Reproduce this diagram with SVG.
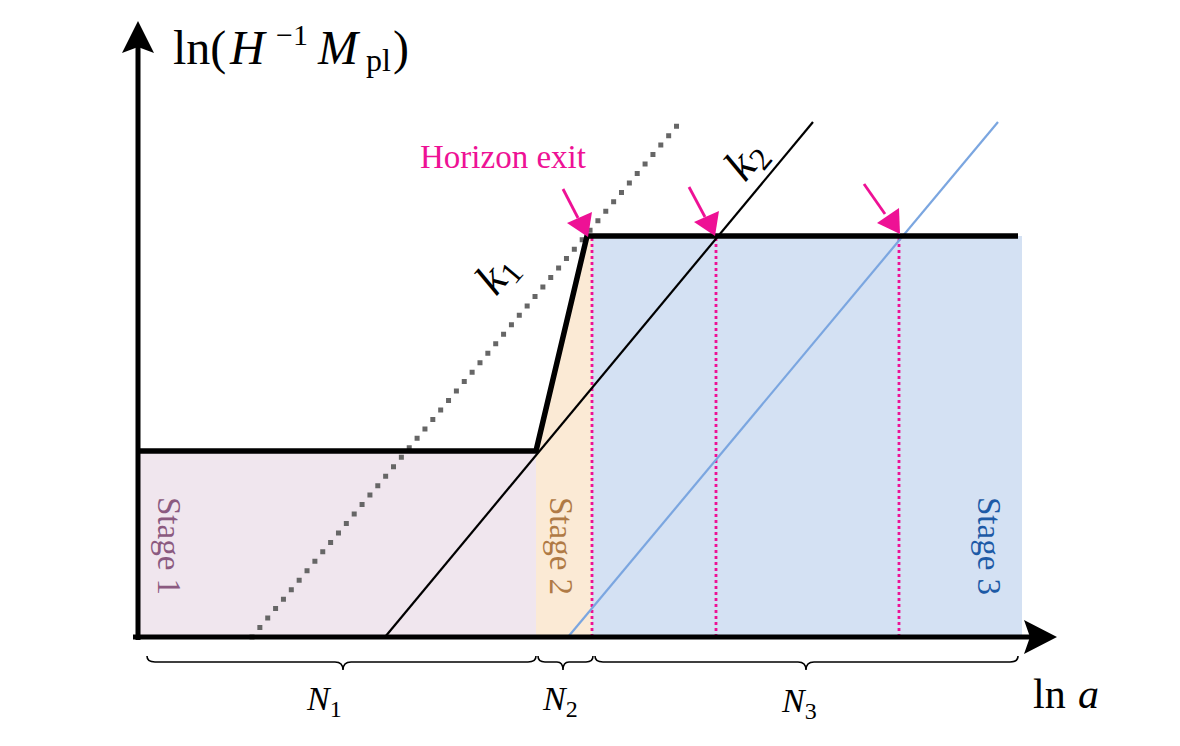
<svg xmlns="http://www.w3.org/2000/svg" width="1180" height="746" viewBox="0 0 1180 746">
<style>
.serif{font-family:"Liberation Serif","DejaVu Serif",serif;}
.math{font-family:"Liberation Serif","DejaVu Serif",serif;font-style:italic;}
.brace{fill:none;stroke:#000;stroke-width:1.6;}
.exit{stroke:#ee1195;stroke-width:2.8;fill:none;}
.vdot{stroke:#ee1195;stroke-width:2.8;stroke-dasharray:3 3;}
.sub{font-style:normal;}
</style>
<rect width="1180" height="746" fill="#fff"/>
<g id="regions">
<rect id="stage1-fill" x="137" y="451" width="399" height="186" fill="#f0e6ee"/>
<polygon id="stage2-fill" points="536,451 587,236 592,236 592,637 536,637" fill="#fbead5"/>
<rect id="stage3-fill" x="592" y="236" width="430" height="401" fill="#d4e1f3"/>
</g>
<g id="connectors">
<line x1="592" y1="238" x2="592" y2="637" class="vdot"/>
<line x1="716" y1="238" x2="716" y2="637" class="vdot"/>
<line x1="899" y1="238" x2="899" y2="637" class="vdot"/>
<line id="k1-line" x1="252" y1="637" x2="680" y2="122" stroke="#666" stroke-width="5" stroke-dasharray="0 12.3" stroke-linecap="square"/>
<line id="k2-line" x1="385" y1="637" x2="813" y2="122" stroke="#000" stroke-width="2.2"/>
<line id="k3-line" x1="568" y1="637" x2="998" y2="122" stroke="#7ba6e0" stroke-width="2.2"/>
<polyline id="horizon" points="137,451 536,451 587,236 1018,236" fill="none" stroke="#000" stroke-width="5.5" stroke-linejoin="miter"/>
<g id="exit-arrows" fill="#ee1195">
<line x1="563" y1="189" x2="578" y2="218" class="exit"/>
<polygon points="588,237 567,223 592,212"/>
<line x1="689" y1="187" x2="705" y2="217" class="exit"/>
<polygon points="715,236 694,222 719,211"/>
<line x1="864" y1="184" x2="885" y2="214" class="exit"/>
<polygon points="900,234 877,223 899,208"/>
</g>
<g id="axes">
<line x1="138" y1="640" x2="138" y2="45" stroke="#000" stroke-width="5"/>
<polygon points="138,21 154,53 138,47 122,53" fill="#000"/>
<line x1="133" y1="637" x2="1035" y2="637" stroke="#000" stroke-width="5"/>
<polygon points="1057,637 1024,620 1030,637 1024,654" fill="#000"/>
</g>
<g id="braces">
<path class="brace" d="M147,656 Q147,662 155,662 L335,662 Q343,662 343,670 Q343,662 351,662 L528,662 Q536,662 536,656"/>
<path class="brace" d="M538,656 Q538,662 545,662 L557,662 Q563,662 563,670 Q563,662 569,662 L586,662 Q593,662 593,656"/>
<path class="brace" d="M595,656 Q595,662 603,662 L798,662 Q806,662 806,670 Q806,662 814,662 L1010,662 Q1018,662 1018,656"/>
</g>
</g>
<g id="labels">
<g id="y-label" font-size="48">
<text class="serif" x="173" y="64">ln(</text>
<text class="math" x="230" y="64">H</text>
<text class="serif" x="276" y="45" font-size="30">−1</text>
<text class="math" x="318" y="64">M</text>
<text class="serif" x="366" y="71" font-size="32">pl</text>
<text class="serif" x="393" y="64">)</text>
</g>
<g id="x-label">
<text class="serif" x="1033" y="708" font-size="42">ln</text>
<text class="math" x="1078" y="708" font-size="42">a</text>
</g>
<text class="serif" x="420" y="168" font-size="33" fill="#ee1195">Horizon exit</text>
<text class="math" transform="translate(496,297) rotate(-50)" font-size="46">k<tspan class="serif sub" font-size="32" dy="7">1</tspan></text>
<text class="math" transform="translate(745,183) rotate(-50)" font-size="46">k<tspan class="serif sub" font-size="32" dy="7">2</tspan></text>
<text class="serif" transform="translate(158,497) rotate(90)" font-size="33" fill="#8b5a80">Stage 1</text>
<text class="serif" transform="translate(550,497) rotate(90)" font-size="33" fill="#b07a45">Stage 2</text>
<text class="serif" transform="translate(978,497) rotate(90)" font-size="33" fill="#1d5aa6">Stage 3</text>
<text class="math" x="307" y="710" font-size="34">N<tspan class="serif sub" font-size="24" dy="7">1</tspan></text>
<text class="math" x="543" y="710" font-size="34">N<tspan class="serif sub" font-size="24" dy="7">2</tspan></text>
<text class="math" x="782" y="712" font-size="34">N<tspan class="serif sub" font-size="24" dy="7">3</tspan></text>
</g>
</svg>
